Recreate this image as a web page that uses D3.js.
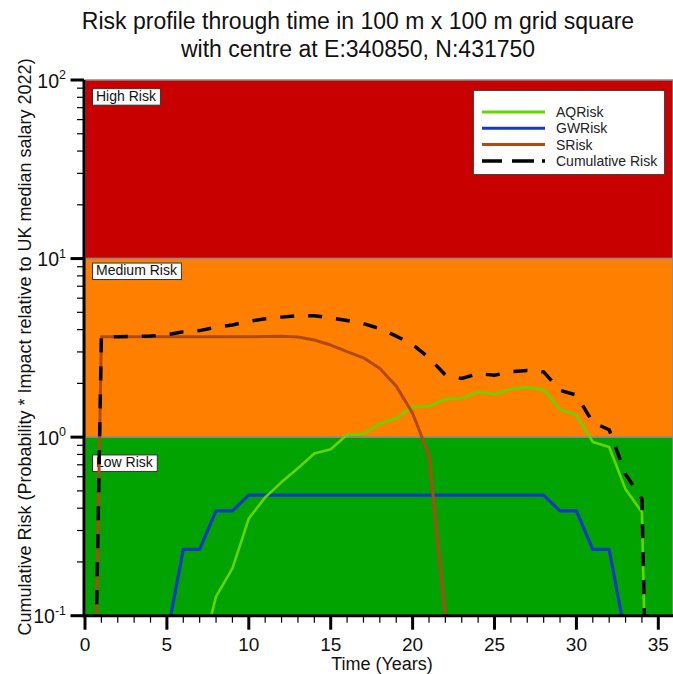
<!DOCTYPE html>
<html>
<head>
<meta charset="utf-8">
<script src="https://cdn.jsdelivr.net/npm/d3@7"></script>
<style>
  html, body { margin: 0; padding: 0; background: #ffffff; }
  svg { display: block; font-family: "Liberation Sans", Arial, sans-serif; }
</style>
</head>
<body>
<svg id="chart" width="673" height="674"></svg>
<script>
// ---------------- data ----------------
const years = d3.range(0, 36); // 0..35
const aqRisk = [null, null, null, null, null, null, null, 0.055, 0.128, 0.184,
  0.35, 0.46, 0.56, 0.67, 0.81, 0.855, 1.03, 1.04, 1.19, 1.27,
  1.48, 1.49, 1.63, 1.65, 1.79, 1.74, 1.86, 1.90, 1.85, 1.43,
  1.33, 0.94, 0.88, 0.51, 0.38, 0.00002];
const gwRisk = [null, null, null, null, null, 0.077, 0.235, 0.235, 0.386, 0.386,
  0.474, 0.474, 0.474, 0.474, 0.474, 0.474, 0.474, 0.474, 0.474, 0.474,
  0.474, 0.474, 0.474, 0.474, 0.474, 0.474, 0.474, 0.474, 0.474, 0.386,
  0.386, 0.235, 0.235, 0.077, null, null];
const sRisk = [0.00002, 3.65, 3.65, 3.65, 3.65, 3.65, 3.65, 3.65, 3.65, 3.65,
  3.65, 3.66, 3.67, 3.64, 3.5, 3.28, 3.01, 2.78, 2.42, 1.93,
  1.36, 0.79, 0.1, null, null, null, null, null, null, null,
  null, null, null, null, null, null];
const cumRisk = [0.00002, 3.65, 3.65, 3.66, 3.68, 3.75, 3.89, 3.95, 4.12, 4.25,
  4.45, 4.6, 4.7, 4.79, 4.78, 4.65, 4.5, 4.32, 4.05, 3.68,
  3.3, 2.78, 2.23, 2.13, 2.27, 2.22, 2.33, 2.36, 2.32, 1.83,
  1.72, 1.21, 1.1, 0.62, 0.45, 0.00002];

const seriesNames = ["AQRisk", "GWRisk", "SRisk", "Cumulative Risk"];
const bandNames = ["High Risk", "Medium Risk", "Low Risk"];
const bandLimits = [[10, 100], [1, 10], [0.1, 1]];
const bandLabelAt = [90, 9.5, 0.8];
const xTicks = [0, 5, 10, 15, 20, 25, 30, 35];
const yTickExps = [2, 1, 0, -1];
const titleLines = ["Risk profile through time in 100 m x 100 m grid square",
                    "with centre at E:340850, N:431750"];
const xTitle = "Time (Years)";
const yTitle = "Cumulative Risk (Probability * Impact relative to UK median salary 2022)";

// ---------------- layout ----------------
const svg = d3.select("#chart");
const W = 673;
const plot = {left: 85, right: 674.7, top: 80, bottom: 615.7};
const x = d3.scaleLinear().domain([0, 36]).range([plot.left, plot.right]);
const y = d3.scaleLog().domain([0.1, 100]).range([plot.bottom, plot.top]);

const colors = {
  aq: "#66d600", gw: "#1a38c8", s: "#b04a14", cum: "#000000",
  high: "#c80000", med: "#ff8000", low: "#00a300"
};
const bandColors = [colors.high, colors.med, colors.low];

// bands
svg.append("g").selectAll("rect").data(bandLimits).join("rect")
  .attr("x", plot.left)
  .attr("width", W - plot.left)
  .attr("y", d => y(d[1]))
  .attr("height", d => y(d[0]) - y(d[1]))
  .attr("fill", (d, i) => bandColors[i])
  .attr("stroke", "#8c8c8c")
  .attr("stroke-width", 1.5);

// clip
svg.append("defs").append("clipPath").attr("id", "clip")
  .append("rect").attr("x", plot.left).attr("y", plot.top)
  .attr("width", W - plot.left).attr("height", plot.bottom - plot.top);

// band labels
bandNames.forEach((name, i) => {
  const g = svg.append("g");
  const tx = 96, ty = y(bandLabelAt[i]) + 12.5;
  const t = g.append("text").attr("x", tx).attr("y", ty)
    .attr("font-size", 14).attr("fill", "#111").text(name);
  const bb = t.node().getBBox();
  g.insert("rect", "text")
    .attr("x", bb.x - 3.5).attr("y", y(bandLabelAt[i]) + 0.5)
    .attr("width", bb.width + 7).attr("height", 16.5)
    .attr("fill", "#ffffff").attr("stroke", "#333").attr("stroke-width", 1);
});

// lines
const lineGen = d3.line()
  .defined(d => d[1] != null)
  .x(d => x(d[0]))
  .y(d => y(d[1]));
const mk = arr => years.map((t, i) => [t, arr[i]]);
const gLines = svg.append("g").attr("clip-path", "url(#clip)");
gLines.append("path").datum(mk(gwRisk)).attr("d", lineGen)
  .attr("fill", "none").attr("stroke", colors.gw).attr("stroke-width", 3.2)
  .attr("stroke-linejoin", "round");
gLines.append("path").datum(mk(aqRisk)).attr("d", lineGen)
  .attr("fill", "none").attr("stroke", colors.aq).attr("stroke-width", 2.6)
  .attr("stroke-linejoin", "round");
gLines.append("path").datum(mk(sRisk)).attr("d", lineGen)
  .attr("fill", "none").attr("stroke", colors.s).attr("stroke-width", 3)
  .attr("stroke-linejoin", "round");
gLines.append("path").datum(mk(cumRisk)).attr("d", lineGen)
  .attr("fill", "none").attr("stroke", colors.cum).attr("stroke-width", 3.5)
  .attr("stroke-dasharray", "14,14");

// axes
const axisG = svg.append("g");
axisG.append("line").attr("x1", 84).attr("x2", 84)
  .attr("y1", plot.top).attr("y2", plot.bottom + 1.5)
  .attr("stroke", "#000").attr("stroke-width", 3);
axisG.append("line").attr("x1", 82.5).attr("x2", W)
  .attr("y1", plot.bottom).attr("y2", plot.bottom)
  .attr("stroke", "#000").attr("stroke-width", 3);

// y ticks
const yMinor = [];
[-1, 0, 1].forEach(e => { for (let m = 2; m <= 9; m++) yMinor.push(m * Math.pow(10, e)); });
axisG.selectAll(".ymin").data(yMinor).join("line")
  .attr("x1", 77).attr("x2", 84).attr("y1", d => y(d)).attr("y2", d => y(d))
  .attr("stroke", "#000").attr("stroke-width", 1.2);
axisG.selectAll(".ymaj").data(yTickExps).join("line")
  .attr("x1", 70.5).attr("x2", 84).attr("y1", d => y(Math.pow(10, d))).attr("y2", d => y(Math.pow(10, d)))
  .attr("stroke", "#000").attr("stroke-width", 3);
const yl = axisG.selectAll(".ylab").data(yTickExps).join("text")
  .attr("x", 66).attr("y", d => y(Math.pow(10, d)) + 7.5)
  .attr("text-anchor", "end").attr("font-size", 19.5).attr("fill", "#111");
yl.append("tspan").text("10");
yl.append("tspan").attr("dy", -8.5).attr("font-size", 12.5).text(d => d);

// x ticks
const xMinor = d3.range(1, 36).filter(v => v % 5 !== 0);
axisG.selectAll(".xmin").data(xMinor).join("line")
  .attr("x1", d => x(d)).attr("x2", d => x(d)).attr("y1", plot.bottom).attr("y2", plot.bottom + 7)
  .attr("stroke", "#000").attr("stroke-width", 1.2);
axisG.selectAll(".xmaj").data(xTicks).join("line")
  .attr("x1", d => x(d)).attr("x2", d => x(d)).attr("y1", plot.bottom).attr("y2", plot.bottom + 14)
  .attr("stroke", "#000").attr("stroke-width", 3);
axisG.selectAll(".xlab").data(xTicks).join("text")
  .attr("x", d => x(d)).attr("y", 651)
  .attr("text-anchor", "middle").attr("font-size", 19).attr("fill", "#111")
  .text(d => d);

// axis titles
svg.append("text").attr("x", 382).attr("y", 670)
  .attr("text-anchor", "middle").attr("font-size", 18).attr("fill", "#111").text(xTitle);
svg.append("text").attr("transform", "translate(31,347) rotate(-90)")
  .attr("text-anchor", "middle").attr("font-size", 18).attr("fill", "#111").text(yTitle);

// title
svg.selectAll(".title").data(titleLines).join("text")
  .attr("x", 358).attr("y", (d, i) => 28.5 + i * 28)
  .attr("text-anchor", "middle").attr("font-size", 23).attr("fill", "#111")
  .text(d => d);

// legend
const lg = svg.append("g");
lg.append("rect").attr("x", 473.5).attr("y", 90.5).attr("width", 191).attr("height", 84)
  .attr("fill", "#ffffff").attr("stroke", "#444").attr("stroke-width", 1);
const legStyles = [
  {c: colors.aq, w: 3, dash: null},
  {c: colors.gw, w: 3, dash: null},
  {c: colors.s, w: 3, dash: null},
  {c: colors.cum, w: 3.5, dash: "20,10,22,8,3,100"}
];
seriesNames.forEach((name, i) => {
  const yy = 112 + i * 16.3;
  const ln = lg.append("line").attr("x1", 482).attr("x2", 545).attr("y1", yy).attr("y2", yy)
    .attr("stroke", legStyles[i].c).attr("stroke-width", legStyles[i].w);
  if (legStyles[i].dash) ln.attr("stroke-dasharray", legStyles[i].dash);
  lg.append("text").attr("x", 556).attr("y", yy + 5).attr("font-size", 14)
    .attr("fill", "#222").text(name);
});
</script>
</body>
</html>
